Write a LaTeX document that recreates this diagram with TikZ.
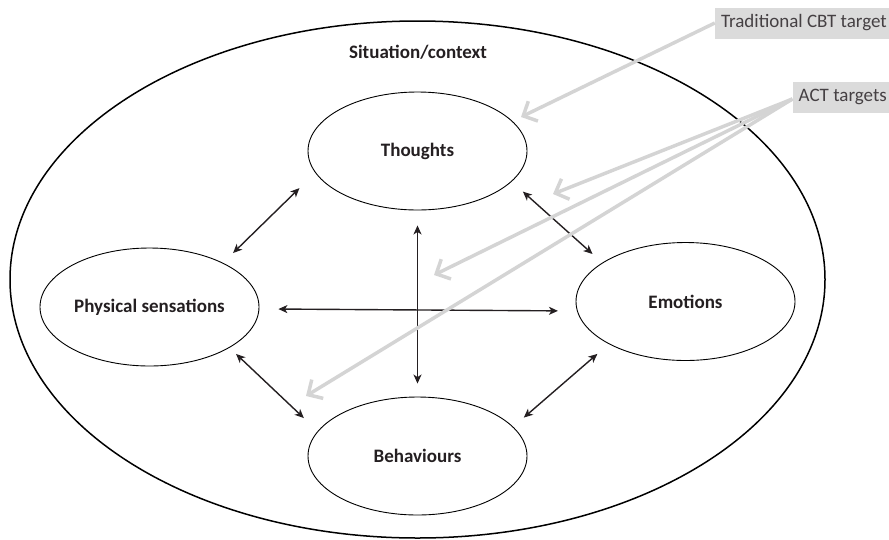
\documentclass[tikz,border=0pt]{standalone}
\usepackage{fontspec}
\setmainfont{Carlito}
\usetikzlibrary{arrows,arrows.meta,shapes.geometric}

\begin{document}
\begin{tikzpicture}[x=1pt,y=-1pt,>={Stealth[length=9pt,width=8pt,inset=2.5pt]}]

\definecolor{lightgrey}{rgb}{0.83,0.83,0.83}
\definecolor{boxgrey}{rgb}{0.86,0.86,0.86}
\definecolor{inkdark}{rgb}{0.14,0.12,0.13}

\tikzset{
	part/.style={draw,ellipse,line width=0.9pt,minimum width=219pt,minimum height=118pt,
		inner sep=0pt,font=\fontsize{19}{22}\selectfont\bfseries,text=inkdark},
	link/.style={<->,line width=1.4pt,color=inkdark},
	target/.style={fill=boxgrey,inner xsep=6pt,minimum height=31pt,
		font=\fontsize{19}{22}\selectfont,text=inkdark!85},
	pointer/.style={-{Straight Barb[length=11pt,width=22pt]},color=lightgrey,line width=3.5pt}
}

\useasboundingbox (0,0) rectangle (889,539);

\node[draw,ellipse,line width=1.5pt,minimum width=815pt,minimum height=517pt] (ctx) at (417.5,279.5) {};
\node[font=\fontsize{19}{22}\selectfont\bfseries,text=inkdark] (sit) at (418,52) {Situation/context};

\node[part] (th) at (417.5,151) {Thoughts};
\node[part] (ph) at (149.5,307) {Physical sensations};
\node[part] (em) at (685.5,301.5) {Emotions};
\node[part] (be) at (417.5,456) {Behaviours};

\draw[link,shorten <=22pt,shorten >=14pt] (th.192)--(ph.31);
\draw[link,shorten <=15pt,shorten >=13pt] (th.342)--(em.155);
\draw[link,shorten <=9pt,shorten >=19pt] (ph.333)--(be.166);
\draw[link,shorten <=14pt,shorten >=15pt] (be.17)--(em.209);
\draw[link,shorten <=15pt,shorten >=13pt] (th.south)--(be.north);
\draw[link,shorten <=19pt,shorten >=19pt] (ph.-1)--(em.185);

\node[target,anchor=east] (cbt) at (893,23) {Traditional CBT target};
\node[target,anchor=east] (act) at (893,97) {ACT targets};

\coordinate (tgt0) at (521,117);
\coordinate (tgt1) at (553,194);
\coordinate (tgt2) at (434,275);
\coordinate (tgt3) at (306,396);

\draw[pointer] (cbt.west)--(tgt0);
\foreach \i in {1,2,3}{
	\draw[pointer] ([yshift=-2pt]act.west)--(tgt\i);
}

\end{tikzpicture}
\end{document}
